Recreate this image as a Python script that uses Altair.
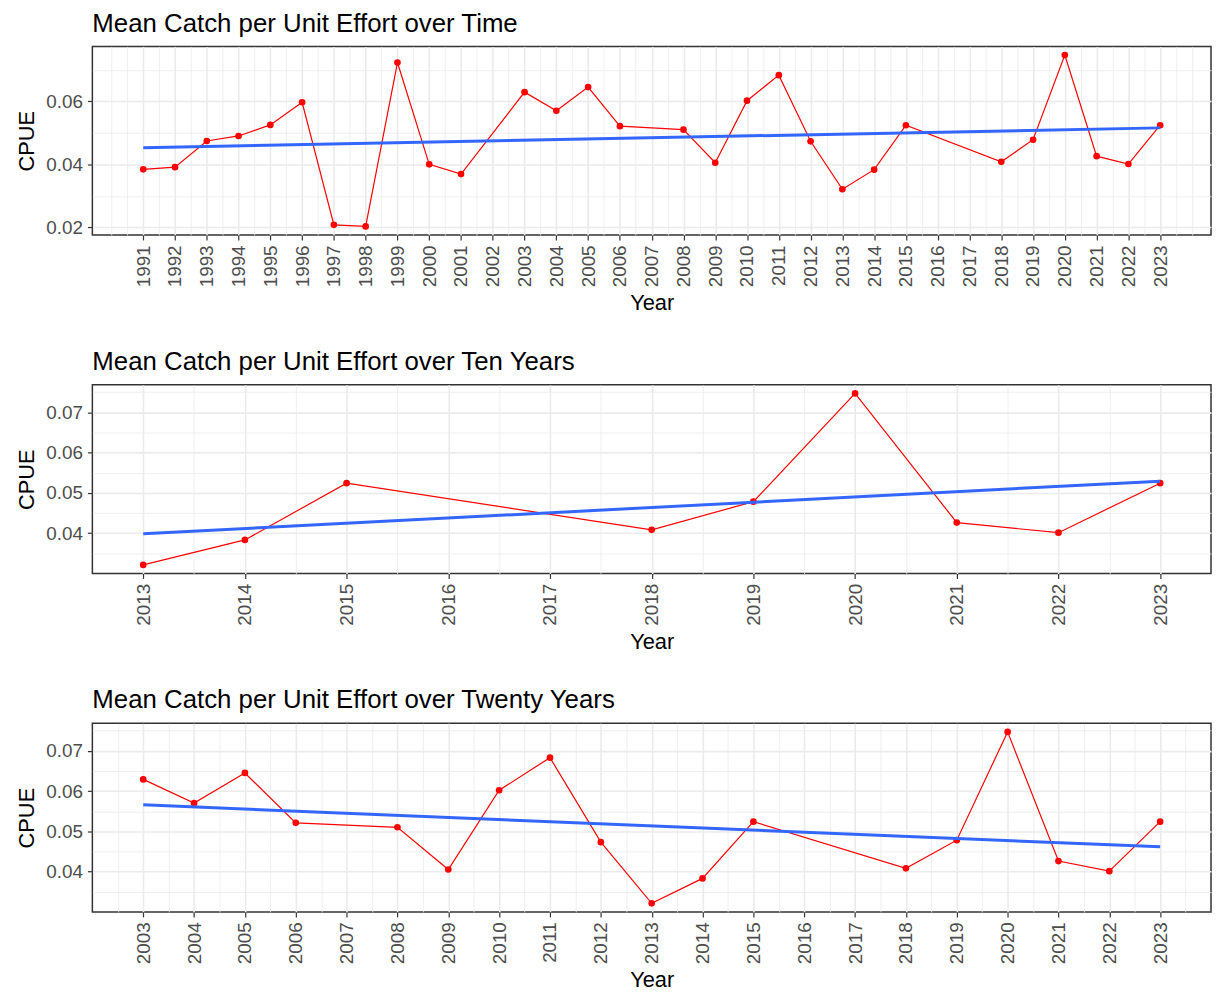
import altair as alt
import pandas as pd

# ---- data ----
years = [1991, 1992, 1993, 1994, 1995, 1996, 1997, 1998, 1999, 2000, 2001,
         2003, 2004, 2005, 2006, 2008, 2009, 2010, 2011, 2012, 2013, 2014,
         2015, 2018, 2019, 2020, 2021, 2022, 2023]
cpue = [0.0384, 0.0391, 0.0474, 0.0490, 0.0525, 0.0597, 0.0208, 0.0203, 0.0723,
        0.0400, 0.0369, 0.0629, 0.0570, 0.0645, 0.0521, 0.0510, 0.0405, 0.0602,
        0.0683, 0.0473, 0.0321, 0.0383, 0.0524, 0.0408, 0.0478, 0.0747, 0.0426,
        0.0401, 0.0524]

titles = ["Mean Catch per Unit Effort over Time",
          "Mean Catch per Unit Effort over Ten Years",
          "Mean Catch per Unit Effort over Twenty Years"]
start_years = [1991, 2013, 2003]
y_ticks_p1 = [0.02, 0.03, 0.04, 0.05, 0.06, 0.07]
y_ticks_p23 = [0.035, 0.04, 0.045, 0.05, 0.055, 0.06, 0.065, 0.07, 0.075]

df = pd.DataFrame({"Year": years, "CPUE": cpue})

FONT = "Liberation Sans"
W, H = 1127, 190
LABEL_SIZE = 19


def panel(title, start, y_ticks, y_major_test):
    sub = df[df["Year"] >= start]
    x0, x1 = int(sub["Year"].min()), int(sub["Year"].max())
    xe = (x1 - x0) * 0.05
    y0, y1 = sub["CPUE"].min(), sub["CPUE"].max()
    ye = (y1 - y0) * 0.05
    x_vals = [v / 2 for v in range(2 * (x0 - 1), 2 * (x1 + 1) + 1)
              if x0 - xe + 0.01 < v / 2 < x1 + xe - 0.01]

    x_major = ("round(datum.value*2) % 2 == 0 && datum.value >= " + str(x0)
               + " && datum.value <= " + str(x1))
    x_minor = "!(" + x_major + ")"
    y_minor = "!(" + y_major_test + ")"

    x = alt.X("Year:Q",
              scale=alt.Scale(domain=[x0 - xe, x1 + xe], nice=False, zero=False),
              axis=alt.Axis(values=x_vals, title="Year", labelAngle=-90,
                            labelExpr="(" + x_major + ") ? format(datum.value, 'd') : ''",
                            labelOverlap=False, labelFlush=False,
                            labelFontSize={"condition": {"test": x_minor, "value": 0}, "value": LABEL_SIZE},
                            gridWidth={"condition": {"test": x_minor, "value": 0.8}, "value": 1.6},
                            tickOpacity={"condition": {"test": x_minor, "value": 0}, "value": 1},
                            titlePadding=6))
    y = alt.Y("CPUE:Q",
              scale=alt.Scale(domain=[y0 - ye, y1 + ye], nice=False, zero=False),
              axis=alt.Axis(values=y_ticks, title="CPUE",
                            labelExpr="(" + y_major_test + ") ? format(datum.value, '.2f') : ''",
                            labelOverlap=False, labelFlush=False,
                            labelFontSize={"condition": {"test": y_minor, "value": 0}, "value": LABEL_SIZE},
                            gridWidth={"condition": {"test": y_minor, "value": 0.8}, "value": 1.6},
                            tickOpacity={"condition": {"test": y_minor, "value": 0}, "value": 1},
                            titlePadding=7))

    base = alt.Chart(df).transform_filter(alt.datum.Year >= start)
    line = base.mark_line(color="#FF0000", strokeWidth=1.2).encode(x=x, y=y)
    pts = base.mark_circle(color="#FF0000", size=45, opacity=1).encode(x=x, y=y)
    reg = base.transform_regression("Year", "CPUE").mark_line(
        color="#3366FF", strokeWidth=3).encode(x=x, y=y)
    return alt.layer(line, pts, reg).properties(
        width=W, height=H,
        title=alt.TitleParams(title, anchor="start", frame="group"))


p1 = panel(titles[0], start_years[0], y_ticks_p1, "round(datum.value*100) % 2 == 0")
p2 = panel(titles[1], start_years[1], y_ticks_p23, "round(datum.value*1000) % 10 == 0")
p3 = panel(titles[2], start_years[2], y_ticks_p23, "round(datum.value*1000) % 10 == 0")

chart = alt.vconcat(p1, p2, p3, spacing=33).properties(
    padding={"left": 7, "top": -2, "right": 0, "bottom": -4},
    background="white",
).configure_view(
    stroke="#333333", strokeWidth=1.5
).configure_axis(
    domain=False, tickColor="#333333", tickSize=5, tickWidth=1.2,
    labelFont=FONT, labelColor="#4D4D4D", labelPadding=5,
    titleFont=FONT, titleFontSize=22, titleFontWeight="normal", titleColor="#000000",
    gridColor="#EBEBEB",
).configure_title(
    font=FONT, fontSize=26, fontWeight="normal", color="#000000", offset=10,
)

chart.save("out.html", embed_options={"renderer": "svg", "actions": False})
